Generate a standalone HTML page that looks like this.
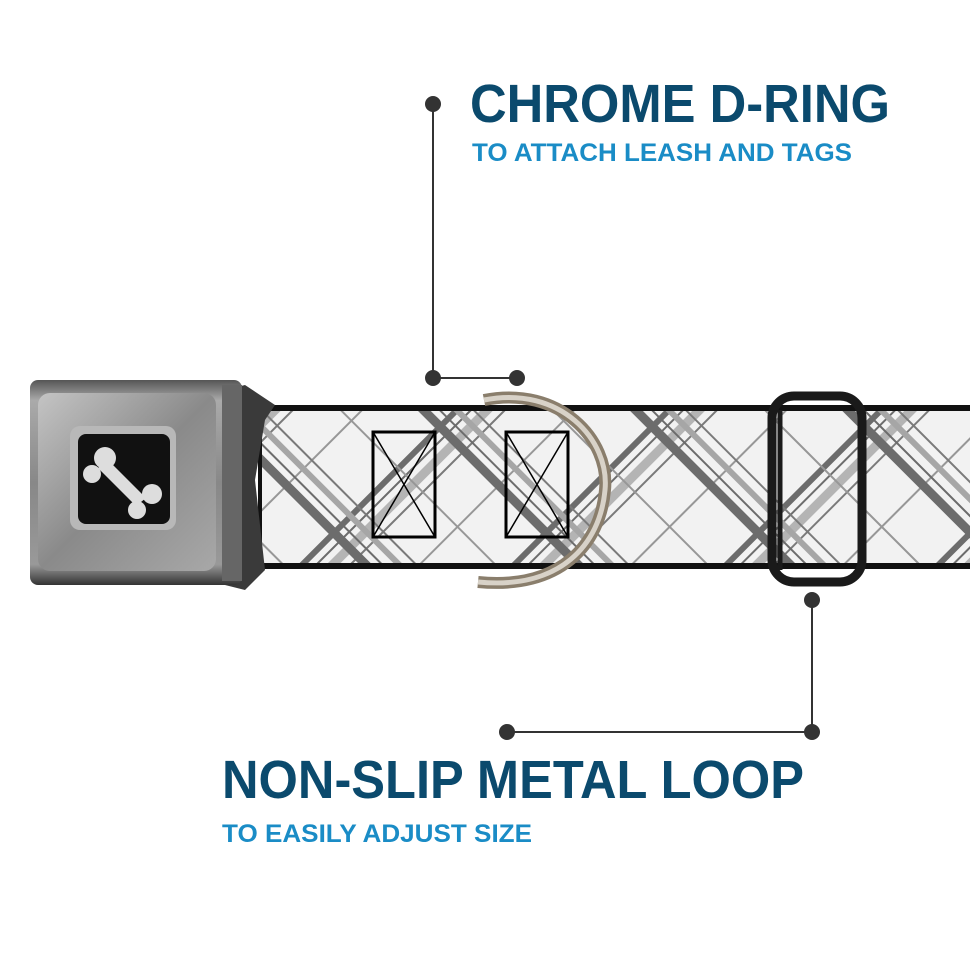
<!DOCTYPE html>
<html><head><meta charset="utf-8"><style>
html,body{margin:0;padding:0;background:#fff;width:970px;height:971px;overflow:hidden}
</style></head><body>
<svg width="970" height="971" viewBox="0 0 970 971" xmlns="http://www.w3.org/2000/svg">
<defs>
<pattern id="pa" width="150" height="150" patternUnits="userSpaceOnUse" patternTransform="rotate(45)">
<rect x="10" width="6" height="150" fill="#555"/><rect x="22" width="2" height="150" fill="#555"/>
<rect x="30" width="9" height="150" fill="#aaa"/><rect x="46" width="2" height="150" fill="#666"/>
<rect x="95" width="2" height="150" fill="#888"/>
</pattern>
<pattern id="pb" width="150" height="150" patternUnits="userSpaceOnUse" patternTransform="rotate(-45)">
<rect x="5" width="9" height="150" fill="#555"/><rect x="20" width="2" height="150" fill="#555"/>
<rect x="30" width="6" height="150" fill="#999"/><rect x="44" width="2" height="150" fill="#666"/>
<rect x="100" width="2" height="150" fill="#888"/>
</pattern>
<linearGradient id="buck" x1="0" y1="0" x2="0" y2="1">
<stop offset="0" stop-color="#555"/><stop offset="0.1" stop-color="#aaa"/><stop offset="0.5" stop-color="#888"/><stop offset="0.9" stop-color="#999"/><stop offset="1" stop-color="#333"/>
</linearGradient>
<linearGradient id="face" x1="0" y1="0" x2="1" y2="1">
<stop offset="0" stop-color="#c4c4c4"/><stop offset="0.5" stop-color="#8a8a8a"/><stop offset="1" stop-color="#a8a8a8"/>
</linearGradient>
<clipPath id="strap"><rect x="258" y="408" width="712" height="160"/></clipPath>
</defs>
<rect x="258" y="405" width="712" height="164" fill="#111"/>
<rect x="262" y="411" width="708" height="152" fill="#f2f2f2"/>
<g clip-path="url(#strap)" opacity="0.85">
<rect x="262" y="411" width="708" height="152" fill="url(#pa)"/>
<rect x="262" y="411" width="708" height="152" fill="url(#pb)"/>
</g>
<g fill="none" stroke="#000" stroke-width="3">
<rect x="373" y="432" width="62" height="105"/><path d="M373 537 L435 432 M373 432 L435 537" stroke-width="1.5"/>
<rect x="506" y="432" width="62" height="105"/><path d="M506 537 L568 432 M506 432 L568 537" stroke-width="1.5"/>
</g>
<path d="M225 390 L245 385 L275 405 L265 420 L255 480 L265 570 L245 590 L225 585 Z" fill="#3a3a3a"/>
<rect x="30" y="380" width="212" height="205" rx="8" fill="url(#buck)"/>
<rect x="38" y="393" width="178" height="178" rx="12" fill="url(#face)"/>
<rect x="70" y="426" width="106" height="104" rx="10" fill="#b8b8b8"/>
<rect x="78" y="434" width="92" height="90" rx="8" fill="#111"/>
<g fill="#ddd">
<circle cx="105" cy="458" r="11"/><circle cx="92" cy="474" r="9"/>
<circle cx="152" cy="494" r="10"/><circle cx="137" cy="510" r="9"/>
<path d="M98 468 L108 460 L146 498 L136 506 Z"/>
</g>
<rect x="222" y="385" width="20" height="196" fill="#666"/>
<path d="M484 400 C560 385 610 440 605 490 C600 545 560 590 478 582" fill="none" stroke="#8a7e6c" stroke-width="12"/>
<path d="M484 400 C560 385 610 440 605 490 C600 545 560 590 478 582" fill="none" stroke="#d8d2c8" stroke-width="5"/>
<rect x="772" y="396" width="90" height="186" rx="22" fill="none" stroke="#1a1a1a" stroke-width="9"/>
<line x1="780" y1="410" x2="780" y2="570" stroke="#1a1a1a" stroke-width="5"/>
<g stroke="#333" stroke-width="2" fill="none">
<polyline points="433,104 433,378 517,378"/>
<polyline points="812,600 812,732 507,732"/>
</g>
<g fill="#333">
<circle cx="433" cy="104" r="8"/><circle cx="433" cy="378" r="8"/><circle cx="517" cy="378" r="8"/>
<circle cx="812" cy="600" r="8"/><circle cx="812" cy="732" r="8"/><circle cx="507" cy="732" r="8"/>
</g>
<g font-family="Liberation Sans, sans-serif" font-weight="bold">
<text x="470" y="122" font-size="54" fill="#0b4a6d" textLength="420" lengthAdjust="spacingAndGlyphs">CHROME D-RING</text>
<text x="472" y="161" font-size="25" fill="#1a8cc6" textLength="380" lengthAdjust="spacingAndGlyphs">TO ATTACH LEASH AND TAGS</text>
<text x="222" y="798" font-size="54" fill="#0b4a6d" textLength="582" lengthAdjust="spacingAndGlyphs">NON-SLIP METAL LOOP</text>
<text x="222" y="842" font-size="25" fill="#1a8cc6" textLength="310" lengthAdjust="spacingAndGlyphs">TO EASILY ADJUST SIZE</text>
</g>
</svg>
</body></html>
